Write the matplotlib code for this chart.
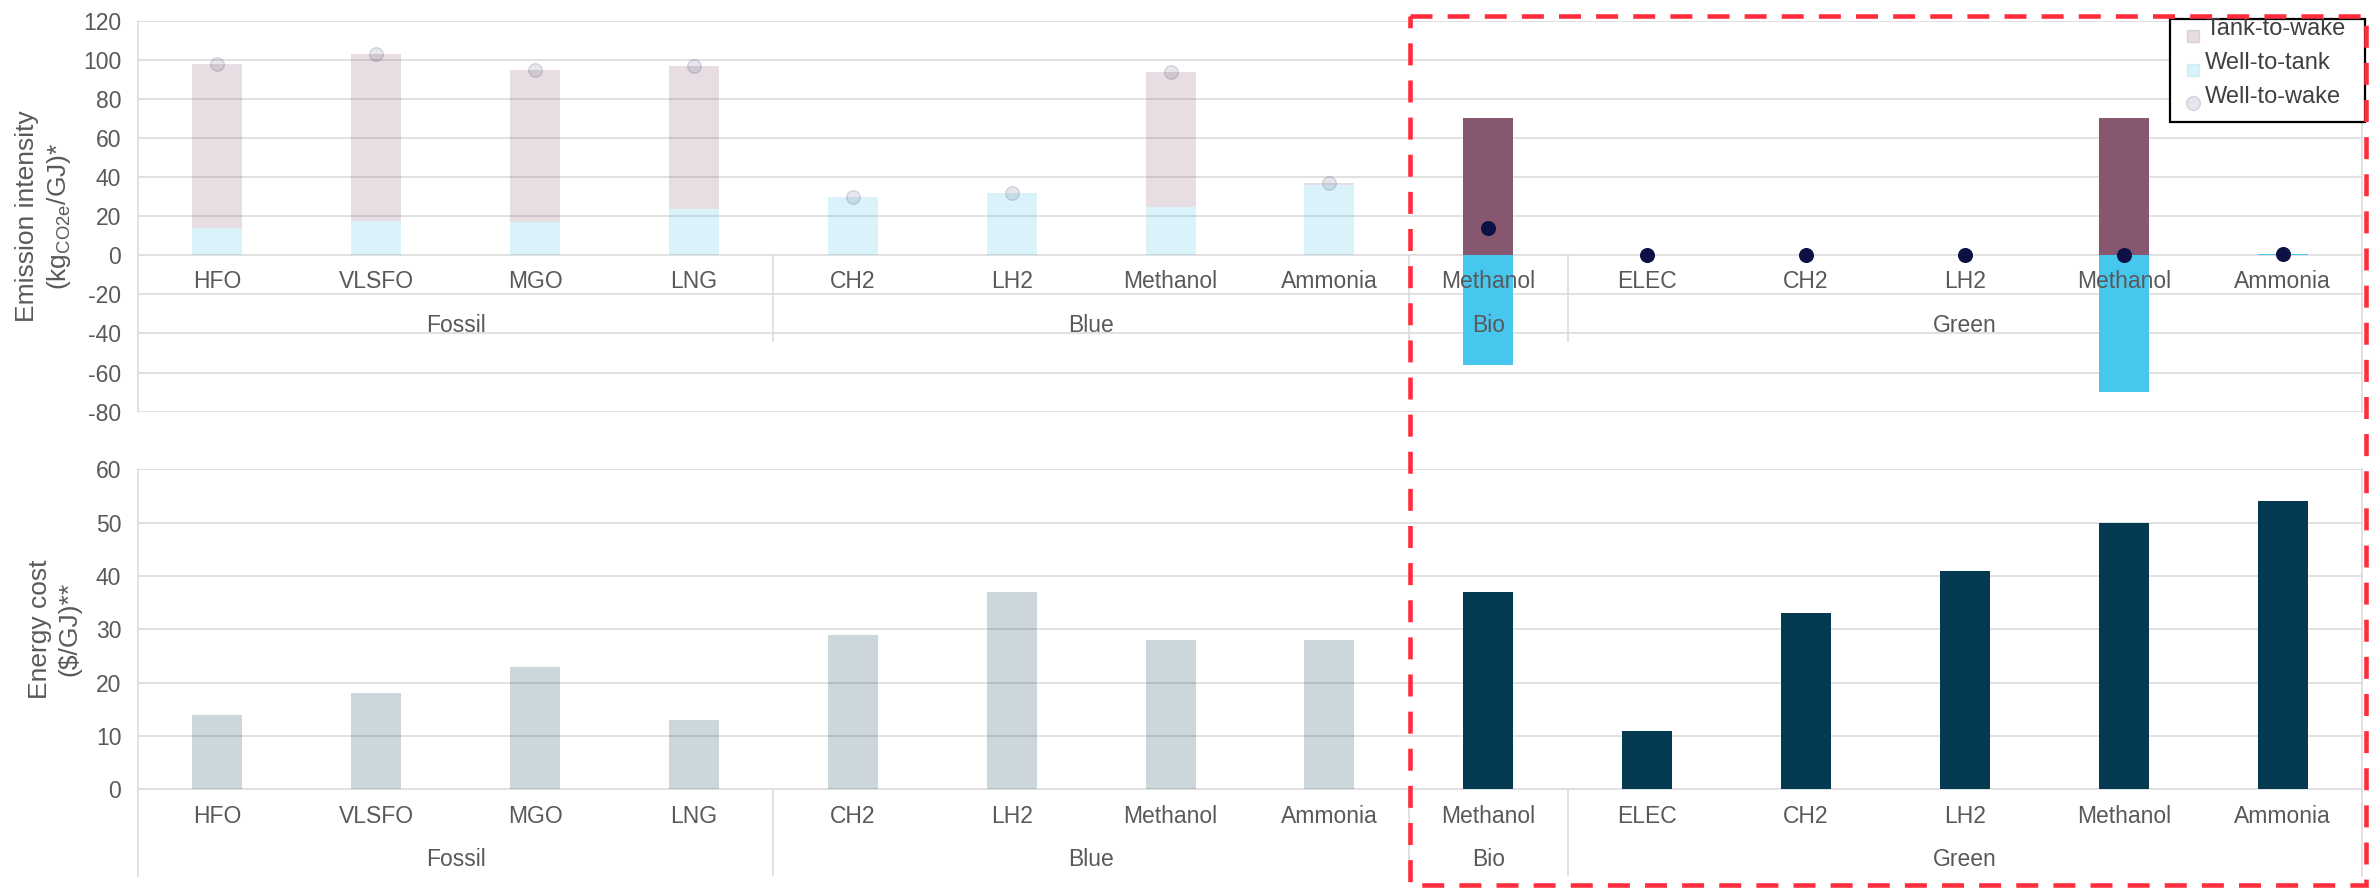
import matplotlib
matplotlib.use("Agg")
import matplotlib.pyplot as plt
from matplotlib.patches import Rectangle
from matplotlib.colors import to_rgba

plt.rcParams['font.family'] = ['Liberation Sans', 'DejaVu Sans']
plt.rcParams['axes.unicode_minus'] = False
plt.rcParams['mathtext.default'] = 'regular'

# ---- data -------------------------------------------------------------
categories = ['HFO', 'VLSFO', 'MGO', 'LNG',
              'CH2', 'LH2', 'Methanol', 'Ammonia',
              'Methanol',
              'ELEC', 'CH2', 'LH2', 'Methanol', 'Ammonia']
groups = ['Fossil', 'Blue', 'Bio', 'Green']
group_sizes = [4, 4, 1, 5]

well_to_tank = [14, 17.5, 17, 23.5, 30, 32, 24.5, 36, -56, 0, 0, 0, -70, 0.5]
tank_to_wake = [84, 85.5, 78, 73.5, 0, 0, 69.5, 1, 70, 0, 0, 0, 70, 0]
well_to_wake = [98, 103, 95, 97, 30, 32, 94, 37, 14, 0, 0, 0, 0, 0.5]
energy_cost = [14, 18, 23, 13, 29, 37, 28, 28, 37, 11, 33, 41, 50, 54]
highlighted = [False] * 8 + [True] * 6

emission_ticks = list(range(-80, 121, 20))
cost_ticks = list(range(0, 61, 10))

# ---- style ------------------------------------------------------------
TTW_COLOR = '#87566F'
WTT_COLOR = '#47C6EE'
WTW_COLOR = '#0B1145'
COST_COLOR = '#033A52'
FADE = 0.2
GRID = '#D9D9D9'
TEXT = '#595959'
FS = 16.5
BAR_W = 0.315

W, H = 2376, 888
fig = plt.figure(figsize=(W / 100, H / 100), dpi=100)

left_px, right_px = 138, 2362
ax1 = fig.add_axes([left_px / W, 1 - 411.7 / H, (right_px - left_px) / W, (411.7 - 20.7) / H])
ax2 = fig.add_axes([left_px / W, 1 - 876 / H, (right_px - left_px) / W, (876 - 469.3) / H])

x = list(range(len(categories)))
n = len(categories)


def faded(color, on, alpha):
    return to_rgba(color, 1.0 if on else alpha)


def style_axes(ax, ticks, ylim):
    ax.set_xlim(-0.5, n - 0.5)
    ax.set_ylim(*ylim)
    ax.set_yticks(ticks)
    ax.set_xticks([])
    ax.grid(axis='y', color=GRID, linewidth=1.1)
    ax.set_axisbelow(True)
    for side in ('top', 'bottom'):
        ax.spines[side].set_visible(False)
    for side in ('left', 'right'):
        ax.spines[side].set_color(GRID)
        ax.spines[side].set_linewidth(1.1)
    ax.tick_params(axis='y', length=0, pad=12, labelsize=FS, labelcolor=TEXT)


def category_axis(ax, y_cat, y_grp, y_div):
    for i, name in zip(x, categories):
        ax.text(i, y_cat, name, ha='center', va='center', fontsize=FS, color=TEXT)
    start = 0
    for g, size in zip(groups, group_sizes):
        mid = start + (size - 1) / 2
        ax.text(mid, y_grp, g, ha='center', va='center', fontsize=FS, color=TEXT)
        start += size
        if start < n:
            ax.vlines(start - 0.5, y_div, 0, color=GRID, linewidth=1.1, zorder=0.5)


# ---- emission intensity ---------------------------------------------
style_axes(ax1, emission_ticks, (-80, 120))
ttw_bottom = [v if v > 0 else 0 for v in well_to_tank]
ax1.bar(x, well_to_tank, width=BAR_W,
        color=[faded(WTT_COLOR, h, FADE) for h in highlighted], zorder=2)
ax1.bar(x, tank_to_wake, width=BAR_W, bottom=ttw_bottom,
        color=[faded(TTW_COLOR, h, FADE) for h in highlighted], zorder=2)
for i, v, h in zip(x, well_to_wake, highlighted):
    ax1.plot(i, v, 'o', markersize=9.8,
             markerfacecolor=faded(WTW_COLOR, h, 0.1),
             markeredgecolor=faded(WTW_COLOR, h, 0.14), markeredgewidth=1,
             zorder=3)
category_axis(ax1, -13.6, -35.8, -44.3)

# ---- energy cost -----------------------------------------------------
style_axes(ax2, cost_ticks, (-16.26, 60))
ax2.bar(x, energy_cost, width=BAR_W,
        color=[faded(COST_COLOR, h, FADE) for h in highlighted], zorder=2)
category_axis(ax2, -5.1, -13.2, -16.26)

# ---- axis titles -----------------------------------------------------
fig.text(44 / W, 1 - 216 / H, 'Emission intensity\n(kg$_{CO2e}$/GJ)*',
         rotation=90, ha='center', va='center', fontsize=19, color=TEXT,
         linespacing=1.3)
fig.text(55 / W, 1 - 629 / H, 'Energy cost\n(\\$/GJ)**',
         rotation=90, ha='center', va='center', fontsize=19, color=TEXT,
         linespacing=1.3)

# ---- overlay: legend and highlight frame -----------------------------
ov = fig.add_axes([0, 0, 1, 1], zorder=10)
ov.set_xlim(0, W)
ov.set_ylim(H, 0)
ov.axis('off')
ov.patch.set_alpha(0)

ov.add_patch(Rectangle((2170, 19), 195, 103, facecolor='white',
                       edgecolor='black', linewidth=1.6, zorder=1))
legend_rows = [
    ('Tank-to-wake', 's', faded(TTW_COLOR, False, FADE), 29, 36),
    ('Well-to-tank', 's', faded(WTT_COLOR, False, FADE), 63, 70),
    ('Well-to-wake', 'o', faded(WTW_COLOR, False, 0.1), 97, 103),
]
for label, mk, col, ty, my in legend_rows:
    ov.plot(2193, my, mk, markersize=9 if mk == 's' else 10,
            markerfacecolor=col,
            markeredgecolor=col if mk == 's' else faded(WTW_COLOR, False, 0.14),
            markeredgewidth=1, zorder=2)
    ov.text(2205, ty, label, ha='left', va='center', fontsize=17,
            color='#404040', zorder=2)

ov.add_patch(Rectangle((1410, 16), 2366 - 1410, 885 - 16, facecolor='none',
                       edgecolor='#FF2E3E', linewidth=3.3,
                       linestyle=(0, (4.8, 3.3)), zorder=3))

fig.savefig('out.png', dpi=100)
